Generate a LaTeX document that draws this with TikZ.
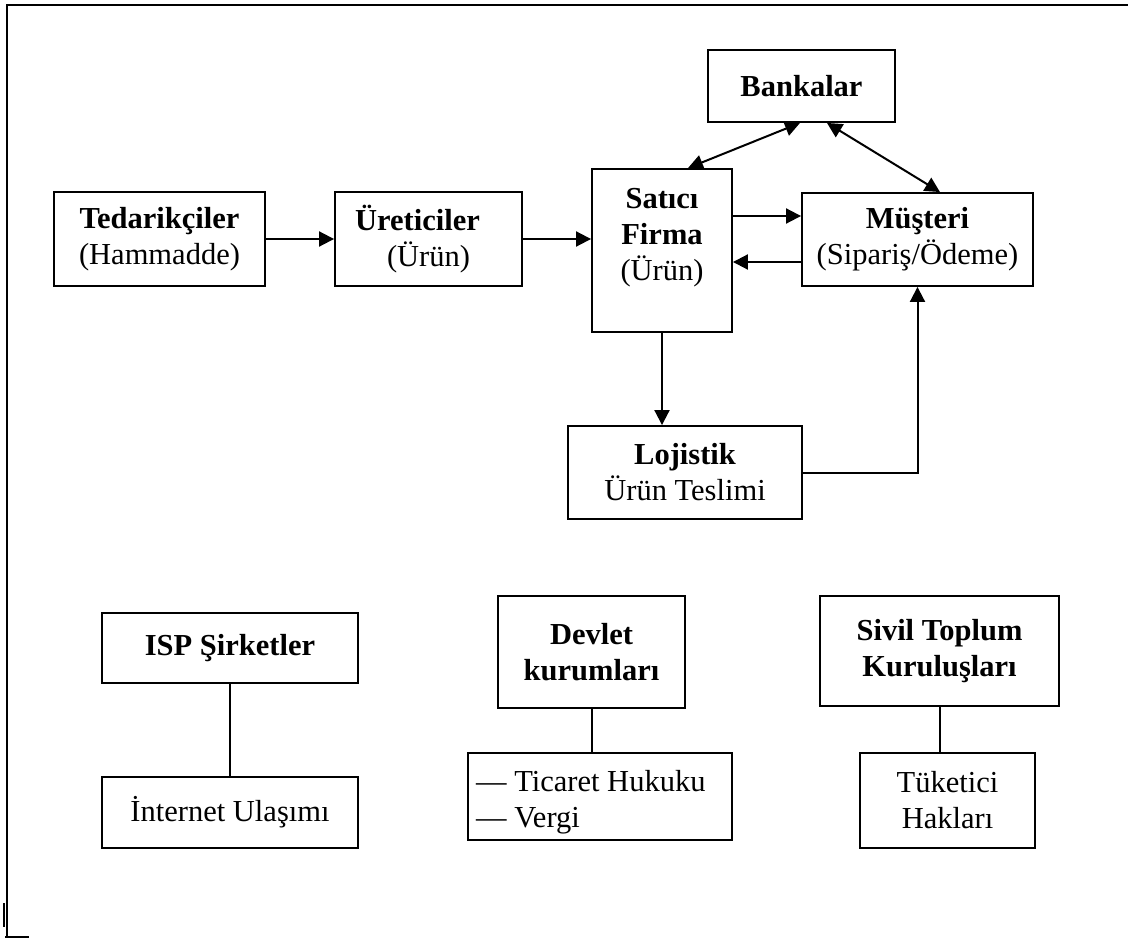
\documentclass[tikz,border=0pt]{standalone}
\usepackage{fontspec}
\setmainfont{Liberation Serif}
\usetikzlibrary{arrows.meta}
\begin{document}
\begin{tikzpicture}[x=1pt,y=-1pt,
  >={Triangle[length=15pt,width=15pt]},
  txt/.style={font=\fontsize{30.5}{36}\selectfont, inner sep=0pt},
  box/.style={txt, draw, line width=1.9pt, align=center},
  conn/.style={line width=2pt},
  frame/.style={line width=1.8pt}]
\useasboundingbox (0,0) rectangle (1128,939);

% page frame fragments
\draw[frame] (6,5) -- (1128,5);
\draw[frame] (7,5) -- (7,938);
\draw[frame] (5,937) -- (29,937);
\draw[line width=2.4pt] (4,903) -- (4,927);

% supply chain
\node[box, minimum width=211pt, minimum height=94pt] (ted) at (159.5,239)
  {\textbf{Tedarikçiler}\\(Hammadde)};
\node[box, minimum width=187pt, minimum height=94pt] (ure) at (428.5,239)
  {\textbf{Üreticiler}\hspace*{22pt}\\(Ürün)};
\node[box, minimum width=140pt, minimum height=163pt] (sat) at (662,250.5) {};
\node[txt, anchor=base, align=center] (sattext) at (662,280)
  {\textbf{Satıcı}\\\textbf{Firma}\\(Ürün)};
\node[box, minimum width=187pt, minimum height=72pt] (ban) at (801.5,86)
  {\textbf{Bankalar}};
\node[box, minimum width=231pt, minimum height=93pt] (mus) at (917.5,239.5)
  {\textbf{Müşteri}\\(Sipariş/Ödeme)};
\node[box, minimum width=234pt, minimum height=93pt] (loj) at (685,472.5)
  {\textbf{Lojistik}\\Ürün Teslimi};

% actors and their roles
\node[box, minimum width=256pt, minimum height=70pt] (isp) at (230,648)
  {\textbf{ISP Şirketler}};
\node[box, minimum width=256pt, minimum height=71pt] (int) at (230,812.5)
  {İnternet Ulaşımı};
\node[box, minimum width=187pt, minimum height=112pt] (dev) at (591.5,652)
  {\textbf{Devlet}\\\textbf{kurumları}};
\node[box, minimum width=264pt, minimum height=87pt] (tic) at (600,796.5) {};
\node[txt, anchor=base west, align=left] (tictext) at (476,827)
  {— Ticaret Hukuku\\— Vergi};
\node[box, minimum width=239pt, minimum height=110pt] (siv) at (939.5,651)
  {\textbf{Sivil Toplum}\\\textbf{Kuruluşları}};
\node[box, minimum width=175pt, minimum height=95pt] (tuk) at (947.5,800.5)
  {Tüketici\\Hakları};

% flows
\draw[conn,->] (ted.east) -- (ure.west);
\draw[conn,->] (ure.east) -- (ure.east -| sat.west);
\draw[conn,->] ([yshift=34.5pt]sat.east) -- ([yshift=34.5pt]sat.east -| mus.west);
\draw[conn,->] ([yshift=-22.5pt]mus.west) -- ([yshift=-22.5pt]mus.west -| sat.east);
\draw[conn,<->] ([xshift=26pt]sat.north) -- ([xshift=-1.5pt]ban.south);
\draw[conn,<->] ([xshift=25.5pt]ban.south) -- ([xshift=22.5pt]mus.north);
\draw[conn,->] (sat.south) -- (sat.south |- loj.north);
\draw[conn,->] (loj.east) -| (mus.south);

% links
\draw[conn] (isp.south) -- (isp.south |- int.north);
\draw[conn] (dev.south) -- (dev.south |- tic.north);
\draw[conn] (siv.south) -- (siv.south |- tuk.north);
\end{tikzpicture}
\end{document}
